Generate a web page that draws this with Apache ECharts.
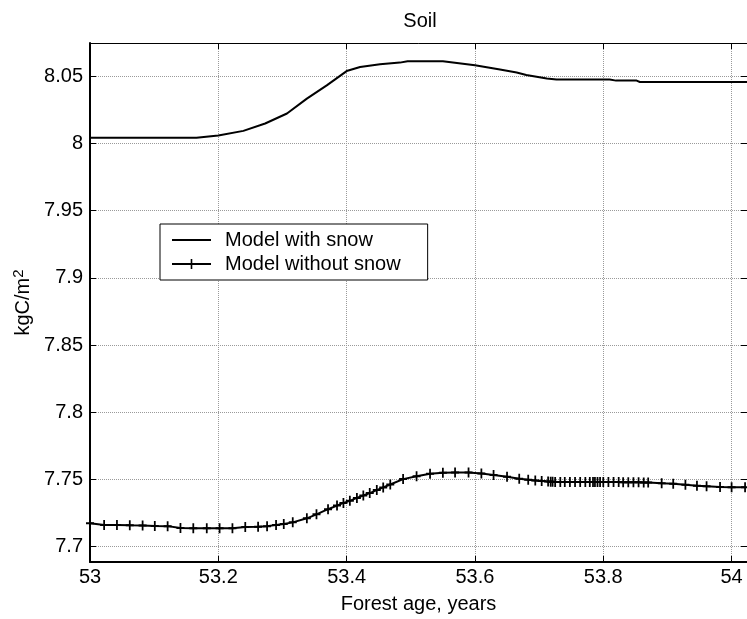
<!DOCTYPE html>
<html>
<head>
<meta charset="utf-8">
<script src="https://cdn.jsdelivr.net/npm/echarts@6/dist/echarts.min.js"></script>
<style>
  html, body { margin: 0; padding: 0; background: #fff; }
  #chart { width: 747px; height: 619px; }
</style>
</head>
<body>
<div id="chart"></div>
<script>
// Soil carbon pool, with and without the snow module
const chartTitle = 'Soil';
const xAxisName = 'Forest age, years';
const seriesNames = ['Model with snow', 'Model without snow'];
const xRange = [53, 54.024];
const yRange = [7.6885, 8.0748];
const xStep = 0.2;

// Model with snow (forest age, kgC/m2)
const snowAge = [53.000, 53.166, 53.200, 53.239, 53.273, 53.307, 53.338, 53.369, 53.400, 53.421,
  53.452, 53.483, 53.495, 53.550, 53.600, 53.639, 53.665, 53.680, 53.712, 53.727,
  53.810, 53.820, 53.852, 53.857, 54.024];
const snowSoil = [8.0042, 8.0042, 8.0059, 8.0094, 8.0149, 8.0223, 8.0334, 8.0433, 8.0539, 8.0569,
  8.0589, 8.0602, 8.0612, 8.0612, 8.0582, 8.0550, 8.0528, 8.0510, 8.0483, 8.0476,
  8.0476, 8.0468, 8.0468, 8.0458, 8.0458];

// Model without snow (forest age, kgC/m2)
const noSnowAge = [53.000, 53.022, 53.042, 53.062, 53.082, 53.101, 53.121, 53.141, 53.161, 53.182,
  53.202, 53.222, 53.242, 53.262, 53.276, 53.290, 53.302, 53.316, 53.338, 53.353,
  53.371, 53.385, 53.395, 53.405, 53.416, 53.426, 53.436, 53.447, 53.457, 53.468,
  53.488, 53.509, 53.530, 53.550, 53.569, 53.590, 53.610, 53.629, 53.650, 53.669,
  53.683, 53.694, 53.704, 53.714, 53.718, 53.721, 53.725, 53.733, 53.740, 53.748,
  53.756, 53.764, 53.772, 53.779, 53.784, 53.787, 53.791, 53.795, 53.800, 53.808,
  53.816, 53.824, 53.831, 53.839, 53.847, 53.855, 53.863, 53.870, 53.891, 53.909,
  53.928, 53.946, 53.961, 53.982, 54.000, 54.021];
const noSnowSoil = [7.7173, 7.7160, 7.7160, 7.7158, 7.7157, 7.7153, 7.7152, 7.7138, 7.7136, 7.7136,
  7.7136, 7.7137, 7.7145, 7.7147, 7.7152, 7.7160, 7.7168, 7.7180, 7.7210, 7.7240,
  7.7278, 7.7305, 7.7325, 7.7340, 7.7362, 7.7380, 7.7398, 7.7420, 7.7440, 7.7462,
  7.7502, 7.7524, 7.7542, 7.7550, 7.7552, 7.7551, 7.7543, 7.7532, 7.7520, 7.7505,
  7.7497, 7.7492, 7.7488, 7.7484, 7.7483, 7.7482, 7.7481, 7.7480, 7.7480, 7.7480,
  7.7480, 7.7480, 7.7480, 7.7480, 7.7480, 7.7480, 7.7480, 7.7480, 7.7480, 7.7480,
  7.7480, 7.7480, 7.7479, 7.7479, 7.7478, 7.7478, 7.7477, 7.7477, 7.7472, 7.7468,
  7.7460, 7.7453, 7.7448, 7.7443, 7.7442, 7.7442];

const FONT = '"Liberation Sans", Arial, Helvetica, sans-serif';
const FS = 20;
const gridLine = { show: true, lineStyle: { color: '#9a9a9a', width: 1, type: [1, 1] } };
const plusMarker = 'path://M3.9,0H6.1V10H3.9Z M0,4H10V6H0Z';
// legend swatches: a plain line, and a line with a plus in its middle (39 x 10 box)
const lineIcon = 'path://M0,0H0.01V0.01H0Z M0,4H39V6H0Z M38.99,9.99H39V10H38.99Z';
const plusLineIcon = 'path://M0,4H39V6H0Z M18.7,0H20.3V10H18.7Z';

const zip = (xs, ys) => xs.map((x, i) => [x, ys[i]]);

const chart = echarts.init(document.getElementById('chart'), null, { renderer: 'canvas' });

const xBase = {
  type: 'value', min: xRange[0], max: xRange[1], interval: xStep,
  axisTick: { show: true, inside: true, length: 6, lineStyle: { color: '#000' } },
  splitLine: { show: false }
};
const yBase = {
  type: 'value', min: yRange[0], max: yRange[1], splitNumber: 8,
  axisTick: { show: true, inside: true, length: 6, lineStyle: { color: '#000' } },
  splitLine: { show: false }
};

chart.setOption({
  animation: false,
  backgroundColor: '#fff',
  textStyle: { fontFamily: FONT, color: '#000' },
  title: {
    text: chartTitle, left: 415, textAlign: 'center', top: 6,
    textStyle: { fontFamily: FONT, fontSize: FS, fontWeight: 'normal', color: '#000' }
  },
  grid: { left: 90, right: 0, top: 43, bottom: 56, containLabel: false },
  legend: {
    orient: 'vertical', left: 160, top: 224,
    data: [
      { name: seriesNames[0], icon: lineIcon },
      { name: seriesNames[1], icon: plusLineIcon }
    ],
    itemWidth: 39, itemHeight: 10, itemGap: 4,
    padding: [6, 27, 6, 12],
    backgroundColor: '#fff', borderColor: '#000', borderWidth: 1,
    textStyle: { fontFamily: FONT, fontSize: FS, color: '#000', padding: [0, 0, 0, 9] }
  },
  xAxis: [
    Object.assign({}, xBase, {
      position: 'bottom',
      name: xAxisName, nameLocation: 'middle', nameGap: 32,
      nameTextStyle: { fontFamily: FONT, fontSize: FS, color: '#000' },
      axisLine: { show: true, onZero: false, lineStyle: { color: '#000', width: 2 } },
      axisLabel: { show: true, margin: 5, fontFamily: FONT, fontSize: FS, color: '#000', showMaxLabel: false },
      splitLine: gridLine
    }),
    Object.assign({}, xBase, {
      position: 'top',
      axisLine: { show: true, onZero: false, lineStyle: { color: '#000', width: 1 } },
      axisLabel: { show: false }
    })
  ],
  yAxis: [
    Object.assign({}, yBase, {
      position: 'left',
      name: '{m|kgC/m}{s|2}', nameLocation: 'middle', nameGap: 52,
      nameTextStyle: {
        fontFamily: FONT, fontSize: FS, color: '#000',
        rich: {
          m: { fontFamily: FONT, fontSize: FS, color: '#000' },
          s: { fontFamily: FONT, fontSize: 15, color: '#000', padding: [0, 0, 9, 0] }
        }
      },
      axisLine: { show: true, onZero: false, lineStyle: { color: '#000', width: 2 } },
      axisLabel: { show: true, margin: 7, fontFamily: FONT, fontSize: FS, color: '#000', showMinLabel: false, showMaxLabel: false },
      splitLine: gridLine
    }),
    Object.assign({}, yBase, {
      position: 'right',
      axisLine: { show: true, onZero: false, lineStyle: { color: '#000', width: 1 } },
      axisLabel: { show: false }
    })
  ],
  series: [
    {
      name: seriesNames[0], type: 'line', xAxisIndex: 0, yAxisIndex: 0,
      data: zip(snowAge, snowSoil),
      showSymbol: false, symbol: 'none',
      lineStyle: { color: '#000', width: 2 },
      itemStyle: { color: '#000' }
    },
    {
      name: seriesNames[1], type: 'line', xAxisIndex: 0, yAxisIndex: 0,
      data: zip(noSnowAge, noSnowSoil),
      showSymbol: true, symbol: plusMarker, symbolSize: [8, 10],
      lineStyle: { color: '#000', width: 2 },
      itemStyle: { color: '#000' }
    }
  ]
});
</script>
</body>
</html>
